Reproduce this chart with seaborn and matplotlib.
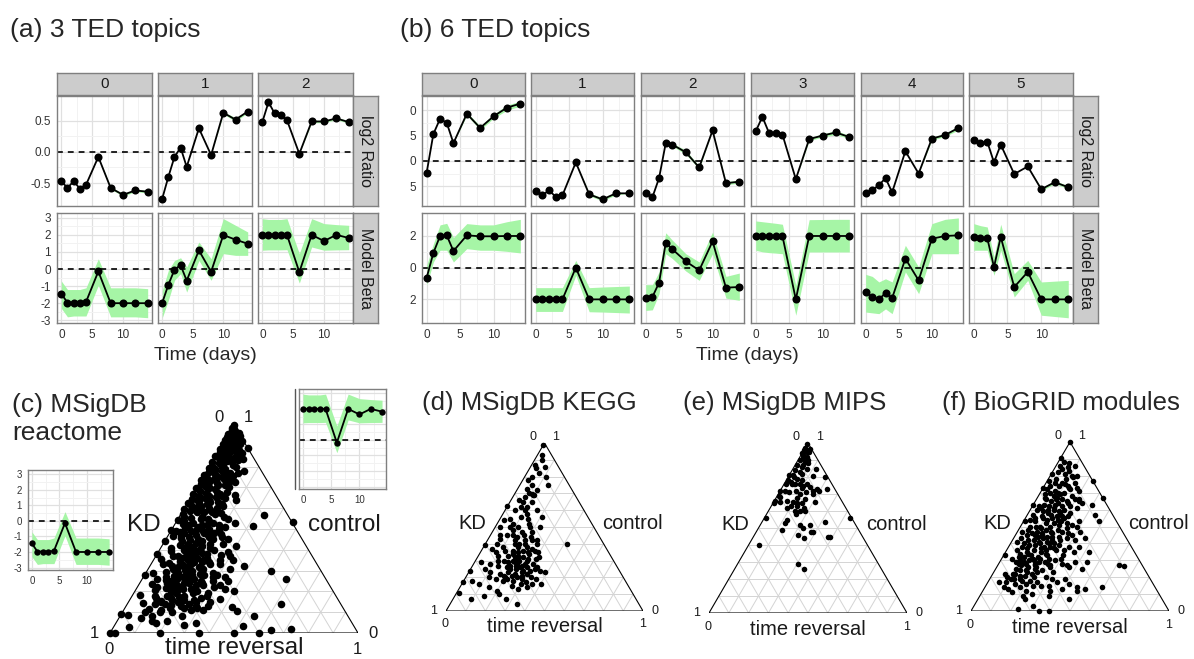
import numpy as np
import matplotlib
matplotlib.use('Agg')
import matplotlib.pyplot as plt
from matplotlib.lines import Line2D
import seaborn as sns

sns.set_style('white')
plt.rcParams['font.family'] = ['Liberation Sans', 'DejaVu Sans']

W, H = 1194, 659

days = [0, 1, 2, 3, 4, 6, 8, 10, 12, 14]

# (a) 3 TED topics
a_topics = ['0', '1', '2']
a_ratio = [[-0.47, -0.58, -0.47, -0.59, -0.53, -0.08, -0.58, -0.69, -0.62, -0.64],
           [-0.75, -0.40, -0.08, 0.07, -0.24, 0.38, -0.05, 0.63, 0.52, 0.65],
           [0.48, 0.80, 0.62, 0.59, 0.51, -0.03, 0.49, 0.49, 0.54, 0.48]]
a_ratio_band = [[0, 0, 0, 0, 0, 0, 0.02, 0.02, 0.02, 0.02],
                [0, 0, 0, 0, 0, 0, 0, 0.02, 0.03, 0.02],
                [0, 0, 0, 0, 0, 0, 0.02, 0.02, 0.02, 0.02]]
a_beta = [[-1.45, -1.97, -1.97, -1.97, -1.93, -0.14, -2.0, -2.0, -2.0, -2.0],
          [-1.97, -0.92, -0.04, 0.23, -0.68, 1.09, -0.16, 1.99, 1.72, 1.48],
          [2.0, 2.0, 2.0, 2.0, 2.0, -0.18, 2.0, 1.64, 2.0, 1.82]]
a_beta_lo = [[-2.3, -2.8, -2.75, -2.75, -2.75, -0.95, -2.8, -2.8, -2.8, -2.85],
             [-2.85, -1.83, -0.66, -0.27, -1.35, 0.5, -0.66, 0.9, 0.8, 0.8],
             [1.1, 1.12, 1.12, 1.12, 1.13, -0.82, 1.29, 1.1, 1.12, 1.13]]
a_beta_hi = [[-0.7, -1.2, -1.2, -1.2, -1.1, 0.6, -1.1, -1.1, -1.1, -1.15],
             [-1.25, -0.08, 0.5, 0.66, 0.12, 1.58, 0.6, 2.95, 2.56, 2.17],
             [2.95, 2.9, 2.9, 2.9, 2.95, 0.9, 2.95, 2.66, 2.6, 2.56]]

# (b) 6 TED topics
b_topics = ['0', '1', '2', '3', '4', '5']
b_ratio = [[-2.3, 5.3, 8.3, 7.5, 3.5, 9.3, 6.5, 8.8, 10.5, 11.3],
           [-6.0, -6.8, -5.8, -7.1, -6.8, -0.3, -6.6, -7.6, -6.4, -6.4],
           [-6.4, -7.2, -3.4, 3.5, 3.2, 1.7, -1.3, 6.0, -4.4, -4.1],
           [5.8, 8.7, 5.5, 5.5, 5.2, -3.6, 4.3, 5.0, 5.6, 4.7],
           [-6.4, -5.8, -4.8, -3.4, -6.2, 1.9, -2.5, 4.4, 5.1, 6.5],
           [4.2, 3.5, 3.8, -0.3, 3.2, -2.6, -1.1, -5.6, -4.2, -5.2]]
b_ratio_band = [[0, 0, 0, 0, 0, 0.3, 0.4, 0.4, 0.5, 0.5],
                [0, 0, 0, 0, 0, 0, 0.3, 0.3, 0.3, 0],
                [0, 0, 0, 0, 0.3, 0.4, 0.3, 0, 0.3, 0.3],
                [0, 0, 0, 0, 0, 0, 0.3, 0.3, 0.4, 0.3],
                [0, 0, 0, 0, 0, 0, 0, 0.3, 0.3, 0.4],
                [0, 0, 0, 0, 0, 0, 0, 0.3, 0.3, 0.3]]
b_beta = [[-0.63, 0.93, 2.0, 2.04, 1.05, 2.04, 1.98, 1.98, 2.0, 2.0],
          [-2.0, -2.0, -2.0, -2.0, -2.0, 0.0, -2.0, -2.0, -2.0, -2.0],
          [-1.9, -1.85, -0.95, 1.56, 1.16, 0.4, -0.17, 1.66, -1.26, -1.22],
          [2.0, 2.0, 2.0, 2.0, 2.0, -2.0, 2.0, 2.0, 2.0, 2.0],
          [-1.54, -1.85, -2.0, -1.6, -1.92, 0.57, -0.8, 1.83, 2.0, 2.04],
          [1.94, 1.87, 1.87, 0.04, 1.94, -1.22, -0.27, -2.0, -2.0, -2.0]]
b_beta_lo = [[-1.1, 0.36, 1.1, 1.1, 0.36, 1.2, 1.1, 1.1, 1.03, 0.93],
             [-2.76, -2.76, -2.76, -2.76, -2.76, -0.48, -2.78, -2.8, -2.83, -2.86],
             [-2.7, -2.66, -1.64, 0.88, 0.57, -0.21, -0.8, 0.88, -1.92, -2.06],
             [1.1, 1.0, 0.95, 0.92, 0.88, -3.0, 0.99, 0.99, 0.99, 0.99],
             [-2.8, -2.85, -2.9, -2.6, -2.9, -0.27, -1.64, 0.88, 0.88, 0.88],
             [1.1, 1.1, 1.1, -0.48, 1.1, -1.85, -0.8, -3.0, -3.08, -3.16]]
b_beta_hi = [[0.15, 1.5, 2.7, 2.8, 1.9, 2.78, 2.7, 2.7, 2.9, 3.05],
             [-1.26, -1.26, -1.26, -1.26, -1.26, 0.46, -1.26, -1.22, -1.19, -1.16],
             [-1.07, -1.07, -0.27, 2.2, 1.73, 0.88, 0.36, 2.25, -0.55, -0.34],
             [2.95, 2.9, 2.85, 2.8, 2.74, -1.12, 3.03, 3.04, 3.05, 3.05],
             [-0.42, -0.55, -0.9, -0.7, -0.9, 1.41, 0.04, 2.78, 3.05, 3.14],
             [2.78, 2.65, 2.57, 0.67, 2.74, -0.38, 0.46, -0.9, -0.85, -0.8]]

# ternary points: (control, time reversal), KD = 1 - control - time reversal
reactome_pts = [
    (1.0, 0.0), (0.985, 0.0), (0.98, 0.01), (0.975, 0.005), (0.965, 0.015), (0.955, 0.0), (0.95, 0.03),
    (0.94, 0.01), (0.935, 0.04), (0.93, 0.0), (0.925, 0.07), (0.92, 0.02), (0.915, 0.05), (0.91, 0.0),
    (0.905, 0.03), (0.90, 0.06), (0.89, 0.11),
    (0.895, 0.02), (0.885, 0.0), (0.88, 0.04), (0.875, 0.07), (0.87, 0.01), (0.865, 0.1), (0.86, 0.03),
    (0.855, 0.05), (0.85, 0.0), (0.845, 0.08), (0.84, 0.02), (0.835, 0.12), (0.83, 0.04), (0.825, 0.06),
    (0.82, 0.0), (0.815, 0.03), (0.81, 0.09), (0.805, 0.01), (0.80, 0.05),
    (0.795, 0.0), (0.79, 0.07), (0.785, 0.03), (0.78, 0.15), (0.775, 0.01), (0.77, 0.1), (0.765, 0.04),
    (0.76, 0.0), (0.755, 0.12), (0.75, 0.06), (0.745, 0.02), (0.74, 0.09), (0.735, 0.0), (0.73, 0.04),
    (0.725, 0.14), (0.72, 0.07), (0.715, 0.01), (0.71, 0.11), (0.705, 0.03), (0.70, 0.05),
    (0.695, 0.0), (0.69, 0.08), (0.685, 0.02), (0.68, 0.13), (0.675, 0.05), (0.67, 0.0), (0.665, 0.17),
    (0.66, 0.03), (0.655, 0.1), (0.65, 0.06), (0.645, 0.01), (0.64, 0.19), (0.635, 0.04), (0.63, 0.12),
    (0.625, 0.0), (0.62, 0.08), (0.615, 0.02), (0.61, 0.15), (0.605, 0.05), (0.60, 0.1),
    (0.595, 0.0), (0.59, 0.07), (0.585, 0.03), (0.58, 0.12), (0.575, 0.16), (0.57, 0.01), (0.565, 0.34),
    (0.56, 0.09), (0.555, 0.05), (0.55, 0.2), (0.545, 0.0), (0.54, 0.13), (0.535, 0.47), (0.53, 0.07),
    (0.525, 0.03), (0.52, 0.18), (0.515, 0.32), (0.51, 0.1), (0.505, 0.05), (0.50, 0.15), (0.53, 0.24),
    (0.56, 0.02), (0.52, 0.11),
    (0.495, 0.0), (0.49, 0.08), (0.485, 0.04), (0.48, 0.14), (0.475, 0.21), (0.47, 0.11), (0.465, 0.02),
    (0.46, 0.17), (0.455, 0.06), (0.45, 0.25), (0.445, 0.1), (0.44, 0.0), (0.435, 0.13), (0.43, 0.19),
    (0.425, 0.07), (0.42, 0.3), (0.415, 0.12), (0.41, 0.04), (0.405, 0.16), (0.40, 0.22), (0.46, 0.09),
    (0.44, 0.15), (0.42, 0.1), (0.48, 0.18),
    (0.395, 0.05), (0.39, 0.12), (0.385, 0.18), (0.38, 0.0), (0.375, 0.26), (0.37, 0.09), (0.365, 0.15),
    (0.36, 0.21), (0.355, 0.03), (0.35, 0.32), (0.345, 0.11), (0.34, 0.17), (0.335, 0.07), (0.33, 0.24),
    (0.325, 0.13), (0.32, 0.38), (0.315, 0.2), (0.31, 0.1), (0.305, 0.15), (0.30, 0.5), (0.38, 0.14),
    (0.36, 0.11), (0.34, 0.2), (0.32, 0.16), (0.30, 0.12), (0.35, 0.27),
    (0.295, 0.08), (0.29, 0.16), (0.285, 0.22), (0.28, 0.0), (0.275, 0.12), (0.27, 0.28), (0.265, 0.18),
    (0.26, 0.58), (0.255, 0.1), (0.25, 0.35), (0.245, 0.14), (0.24, 0.2), (0.235, 0.05), (0.23, 0.26),
    (0.225, 0.16), (0.22, 0.31), (0.215, 0.12), (0.21, 0.22), (0.205, 0.08), (0.20, 0.4), (0.28, 0.19),
    (0.26, 0.14), (0.24, 0.25), (0.22, 0.18), (0.27, 0.09), (0.23, 0.13),
    (0.195, 0.15), (0.19, 0.24), (0.185, 0.03), (0.18, 0.3), (0.175, 0.19), (0.17, 0.1), (0.165, 0.36),
    (0.16, 0.22), (0.155, 0.13), (0.15, 0.27), (0.145, 0.06), (0.14, 0.62), (0.135, 0.18), (0.13, 0.33),
    (0.125, 0.43), (0.12, 0.24), (0.115, 0.1), (0.11, 0.15), (0.105, 0.46), (0.10, 0.2), (0.18, 0.14),
    (0.16, 0.17), (0.14, 0.25), (0.12, 0.29),
    (0.09, 0.0), (0.087, 0.03), (0.08, 0.54), (0.07, 0.09), (0.06, 0.14), (0.05, 0.32), (0.04, 0.28),
    (0.035, 0.52), (0.03, 0.06), (0.02, 0.72), (0.015, 0.64), (0.0, 0.0), (0.0, 0.02), (0.0, 0.2),
    (0.0, 0.36), (0.0, 0.5), (0.0, 0.6),
    (0.97, 0.02), (0.96, 0.04), (0.945, 0.05), (0.94, 0.0), (0.93, 0.03), (0.92, 0.05), (0.91, 0.07),
    (0.9, 0.04), (0.89, 0.02), (0.88, 0.08), (0.87, 0.05), (0.86, 0.09), (0.85, 0.02), (0.84, 0.06),
    (0.83, 0.1), (0.82, 0.08), (0.81, 0.05), (0.8, 0.11), (0.79, 0.03), (0.78, 0.06), (0.77, 0.13),
    (0.76, 0.08), (0.75, 0.1), (0.74, 0.05), (0.73, 0.12), (0.72, 0.02), (0.71, 0.08), (0.7, 0.13),
    (0.69, 0.05), (0.68, 0.09), (0.67, 0.11), (0.66, 0.07), (0.65, 0.14), (0.64, 0.03), (0.63, 0.09),
    (0.62, 0.14), (0.61, 0.06), (0.6, 0.03), (0.59, 0.11), (0.58, 0.06), (0.57, 0.14), (0.56, 0.18),
    (0.55, 0.09), (0.54, 0.03), (0.53, 0.15), (0.52, 0.06), (0.51, 0.21), (0.5, 0.1), (0.49, 0.13),
    (0.48, 0.06), (0.47, 0.16), (0.46, 0.22), (0.45, 0.13), (0.44, 0.07), (0.43, 0.1), (0.42, 0.16),
    (0.41, 0.2), (0.4, 0.1), (0.49, 0.02), (0.47, 0.05), (0.45, 0.19), (0.43, 0.24), (0.41, 0.13),
    (0.55, 0.12), (0.6, 0.13), (0.58, 0.09), (0.64, 0.08), (0.66, 0.12), (0.52, 0.13), (0.5, 0.19),
    (0.39, 0.15), (0.38, 0.2), (0.37, 0.12), (0.36, 0.17), (0.35, 0.14), (0.34, 0.23), (0.33, 0.16),
    (0.32, 0.12), (0.31, 0.22), (0.3, 0.18), (0.29, 0.13), (0.28, 0.24), (0.27, 0.16), (0.26, 0.21),
    (0.25, 0.12), (0.24, 0.18), (0.23, 0.23), (0.22, 0.14), (0.21, 0.19), (0.2, 0.25), (0.19, 0.17),
    (0.18, 0.21), (0.17, 0.16), (0.16, 0.26), (0.15, 0.2), (0.14, 0.15), (0.13, 0.22), (0.12, 0.18),
    (0.11, 0.27), (0.1, 0.15), (0.39, 0.28), (0.37, 0.3), (0.33, 0.28), (0.31, 0.33), (0.29, 0.27),
    (0.27, 0.33), (0.25, 0.29), (0.23, 0.33), (0.21, 0.36), (0.19, 0.3), (0.17, 0.28), (0.15, 0.33),
    (0.13, 0.28), (0.11, 0.32), (0.37, 0.07), (0.33, 0.05), (0.29, 0.03), (0.26, 0.06), (0.22, 0.08),
    (0.18, 0.09), (0.14, 0.11), (0.1, 0.09), (0.08, 0.13), (0.06, 0.2), (0.05, 0.16), (0.08, 0.25),
    (0.35, 0.2), (0.3, 0.22), (0.25, 0.24), (0.2, 0.17), (0.15, 0.13), (0.28, 0.29), (0.24, 0.11),
    (0.32, 0.09)]

kegg_pts = [
    (0.986, 0.0), (0.90, 0.036), (0.857, 0.074), (0.867, 0.018), (0.80, 0.035), (0.80, 0.108),
    (0.748, 0.145), (0.778, 0.029), (0.728, 0.046), (0.698, 0.086), (0.69, 0.095), (0.69, 0.1),
    (0.68, 0.06), (0.623, 0.0), (0.649, 0.068), (0.60, 0.05), (0.56, 0.10), (0.6, 0.1), (0.603, 0.16),
    (0.56, 0.206), (0.5, 0.227), (0.54, 0.022), (0.5, 0.025), (0.5, 0.075), (0.5, 0.118), (0.5, 0.177),
    (0.45, 0.05), (0.45, 0.084), (0.45, 0.117), (0.42, 0.19), (0.42, 0.225), (0.42, 0.25), (0.4, 0.416),
    (0.39, 0.005), (0.37, 0.048), (0.4, 0.058), (0.4, 0.15), (0.38, 0.178), (0.36, 0.213), (0.4, 0.2),
    (0.4, 0.26), (0.35, 0.29), (0.29, 0.035), (0.25, 0.075), (0.28, 0.084), (0.3, 0.116), (0.3, 0.142),
    (0.27, 0.19), (0.29, 0.205), (0.26, 0.246), (0.28, 0.26), (0.24, 0.307), (0.25, 0.327), (0.24, 0.357),
    (0.23, 0.385), (0.24, 0.0), (0.17, 0.0), (0.18, 0.04), (0.16, 0.09), (0.14, 0.146), (0.22, 0.165),
    (0.19, 0.215), (0.18, 0.25), (0.16, 0.3), (0.14, 0.34), (0.16, 0.355), (0.16, 0.4), (0.11, 0.01),
    (0.07, 0.09), (0.09, 0.146), (0.07, 0.27), (0.04, 0.34),
    (0.33, 0.2), (0.32, 0.23), (0.31, 0.26), (0.3, 0.22), (0.34, 0.17), (0.35, 0.24), (0.27, 0.22),
    (0.26, 0.28), (0.22, 0.24), (0.21, 0.28), (0.2, 0.2), (0.23, 0.27), (0.25, 0.2), (0.36, 0.12),
    (0.33, 0.1), (0.47, 0.15), (0.44, 0.14), (0.55, 0.14), (0.52, 0.16), (0.62, 0.07), (0.65, 0.11),
    (0.72, 0.1), (0.75, 0.06), (0.82, 0.06), (0.85, 0.03), (0.93, 0.02), (0.2, 0.33), (0.19, 0.36),
    (0.12, 0.2), (0.1, 0.22), (0.2, 0.12), (0.31, 0.3),
    (0.42, 0.14), (0.4, 0.17), (0.38, 0.22), (0.37, 0.25), (0.36, 0.16), (0.35, 0.19), (0.34, 0.25),
    (0.33, 0.15), (0.32, 0.19), (0.31, 0.21), (0.3, 0.26), (0.29, 0.17), (0.28, 0.22), (0.27, 0.25),
    (0.26, 0.18), (0.25, 0.23), (0.24, 0.27), (0.23, 0.2), (0.22, 0.3), (0.21, 0.23), (0.2, 0.26),
    (0.19, 0.29), (0.18, 0.2), (0.17, 0.32), (0.15, 0.26), (0.13, 0.3), (0.45, 0.17), (0.48, 0.1),
    (0.52, 0.08), (0.55, 0.05), (0.58, 0.12), (0.62, 0.1), (0.66, 0.04), (0.7, 0.07), (0.47, 0.2),
    (0.44, 0.21), (0.36, 0.27), (0.32, 0.31), (0.28, 0.3), (0.26, 0.33), (0.21, 0.19), (0.3, 0.19),
    (0.38, 0.1), (0.43, 0.06), (0.35, 0.08), (0.27, 0.13), (0.23, 0.11), (0.19, 0.16)]

mips_pts = [
    (0.994, 0.0), (0.965, 0.027), (0.955, 0.01), (0.946, 0.03), (0.93, 0.011), (0.92, 0.033), (0.90, 0.009),
    (0.89, 0.04), (0.87, 0.008), (0.86, 0.038), (0.88, 0.062), (0.84, 0.014), (0.83, 0.044), (0.81, 0.02),
    (0.85, 0.115), (0.806, 0.12), (0.80, 0.186), (0.81, 0.0), (0.80, 0.03), (0.78, 0.01), (0.79, 0.05),
    (0.756, 0.01), (0.756, 0.04), (0.756, 0.056), (0.756, 0.08), (0.745, 0.10), (0.76, 0.113),
    (0.72, 0.167), (0.73, 0.18), (0.72, 0.197), (0.73, 0.23), (0.72, 0.0), (0.72, 0.023), (0.71, 0.05),
    (0.715, 0.083), (0.735, 0.1), (0.71, 0.137), (0.70, 0.175), (0.69, 0.01), (0.66, 0.003), (0.655, 0.03),
    (0.645, 0.005), (0.66, 0.065), (0.655, 0.095), (0.675, 0.108), (0.645, 0.12), (0.65, 0.143),
    (0.63, 0.131), (0.655, 0.207), (0.62, 0.085), (0.60, 0.134), (0.60, 0.159), (0.60, 0.185),
    (0.56, 0.01), (0.55, 0.12), (0.53, 0.12), (0.49, 0.122), (0.515, 0.2), (0.5, 0.226), (0.52, 0.25),
    (0.475, 0.286), (0.477, 0.276), (0.46, 0.22), (0.44, 0.26), (0.535, 0.32), (0.45, 0.378),
    (0.45, 0.386), (0.56, 0.43), (0.40, 0.05), (0.29, 0.305), (0.26, 0.35),
    (0.97, 0.0), (0.96, 0.0), (0.95, 0.02), (0.94, 0.0), (0.91, 0.02), (0.9, 0.05), (0.87, 0.04),
    (0.85, 0.07), (0.82, 0.06), (0.78, 0.08), (0.77, 0.03), (0.74, 0.14), (0.7, 0.11), (0.68, 0.02),
    (0.67, 0.15), (0.63, 0.1), (0.62, 0.17), (0.58, 0.15)]

biogrid_pts = [
    (1.0, 0.0), (0.907, 0.0), (0.873, 0.06), (0.86, 0.097), (0.85, 0.065), (0.81, 0.068), (0.80, 0.11),
    (0.80, 0.135), (0.77, 0.23), (0.81, 0.005), (0.77, 0.01), (0.76, 0.046), (0.74, 0.073), (0.76, 0.08),
    (0.73, 0.128), (0.76, 0.147), (0.73, 0.17), (0.71, 0.19), (0.67, 0.33), (0.73, 0.0), (0.72, 0.024),
    (0.70, 0.05), (0.67, 0.037), (0.68, 0.078), (0.69, 0.106), (0.66, 0.13), (0.65, 0.16), (0.68, 0.17),
    (0.66, 0.197), (0.65, 0.219), (0.64, 0.24), (0.61, 0.23), (0.66, 0.217), (0.63, 0.295), (0.63, 0.0),
    (0.60, 0.033), (0.62, 0.035), (0.63, 0.052), (0.62, 0.082), (0.61, 0.113), (0.59, 0.148), (0.60, 0.168),
    (0.58, 0.212), (0.57, 0.34), (0.53, 0.009), (0.54, 0.03), (0.55, 0.05), (0.56, 0.079), (0.54, 0.114),
    (0.55, 0.134), (0.56, 0.154), (0.53, 0.191), (0.55, 0.193), (0.52, 0.225), (0.51, 0.255), (0.50, 0.285),
    (0.53, 0.282), (0.53, 0.38), (0.47, 0.023), (0.45, 0.058), (0.46, 0.078), (0.47, 0.1), (0.45, 0.134),
    (0.44, 0.164), (0.46, 0.179), (0.44, 0.223), (0.47, 0.225), (0.43, 0.27), (0.45, 0.285), (0.42, 0.317),
    (0.47, 0.317), (0.43, 0.362), (0.41, 0.027), (0.38, 0.068), (0.39, 0.096), (0.36, 0.136), (0.41, 0.137),
    (0.38, 0.177), (0.40, 0.192), (0.37, 0.233), (0.39, 0.248), (0.36, 0.288), (0.38, 0.303), (0.35, 0.344),
    (0.38, 0.354), (0.35, 0.419), (0.27, 0.61), (0.265, 0.64), (0.33, 0.008), (0.31, 0.052), (0.32, 0.081),
    (0.29, 0.121), (0.30, 0.141), (0.28, 0.185), (0.31, 0.195), (0.29, 0.23), (0.27, 0.265), (0.30, 0.276),
    (0.28, 0.32), (0.26, 0.363), (0.29, 0.382), (0.25, 0.435), (0.29, 0.441), (0.17, 0.055), (0.14, 0.095),
    (0.19, 0.105), (0.22, 0.114), (0.19, 0.155), (0.21, 0.169), (0.18, 0.21), (0.17, 0.248), (0.15, 0.317),
    (0.19, 0.314), (0.17, 0.349), (0.13, 0.395), (0.16, 0.413), (0.14, 0.465), (0.13, 0.512), (0.14, 0.592),
    (0.09, 0.22), (0.07, 0.24), (0.09, 0.347), (0.12, 0.34), (0.07, 0.458), (0.12, 0.475), (0.01, 0.23),
    (0.0, 0.345), (0.0, 0.394), (0.03, 0.30),
    (0.5, 0.1), (0.48, 0.14), (0.52, 0.16), (0.44, 0.12), (0.42, 0.2), (0.4, 0.15), (0.36, 0.2),
    (0.34, 0.12), (0.58, 0.1), (0.6, 0.09), (0.64, 0.12), (0.7, 0.09), (0.74, 0.12), (0.78, 0.09),
    (0.84, 0.04), (0.33, 0.22), (0.31, 0.16), (0.26, 0.2), (0.24, 0.16), (0.23, 0.22), (0.5, 0.05),
    (0.48, 0.2), (0.56, 0.18), (0.62, 0.15), (0.66, 0.1), (0.42, 0.08), (0.36, 0.05), (0.28, 0.1),
    (0.22, 0.06), (0.2, 0.28),
    (0.88, 0.03), (0.86, 0.02), (0.83, 0.08), (0.82, 0.03), (0.79, 0.12), (0.78, 0.04), (0.75, 0.1),
    (0.74, 0.03), (0.72, 0.14), (0.71, 0.07), (0.7, 0.12), (0.69, 0.03), (0.67, 0.1), (0.66, 0.05),
    (0.65, 0.08), (0.64, 0.17), (0.63, 0.11), (0.62, 0.19), (0.61, 0.05), (0.6, 0.12),
    (0.59, 0.07), (0.58, 0.16), (0.57, 0.03), (0.57, 0.12), (0.56, 0.21), (0.55, 0.09), (0.54, 0.17),
    (0.53, 0.06), (0.52, 0.12), (0.51, 0.19), (0.5, 0.08), (0.5, 0.15), (0.49, 0.11), (0.49, 0.24),
    (0.48, 0.05), (0.47, 0.17), (0.46, 0.13), (0.46, 0.26), (0.45, 0.1), (0.44, 0.19), (0.43, 0.04),
    (0.43, 0.15), (0.42, 0.11), (0.42, 0.24), (0.41, 0.18), (0.4, 0.07), (0.4, 0.22),
    (0.39, 0.13), (0.38, 0.21), (0.37, 0.1), (0.37, 0.17), (0.36, 0.25), (0.35, 0.11), (0.35, 0.18),
    (0.34, 0.08), (0.34, 0.21), (0.33, 0.14), (0.33, 0.3), (0.32, 0.11), (0.32, 0.18), (0.31, 0.24),
    (0.3, 0.1), (0.3, 0.17), (0.29, 0.2), (0.29, 0.08), (0.28, 0.14), (0.28, 0.25), (0.27, 0.12),
    (0.27, 0.19), (0.26, 0.16), (0.26, 0.27), (0.25, 0.1), (0.25, 0.2), (0.24, 0.13), (0.24, 0.24),
    (0.23, 0.17), (0.22, 0.1), (0.22, 0.2), (0.21, 0.14), (0.2, 0.08), (0.2, 0.22), (0.19, 0.12),
    (0.18, 0.17), (0.17, 0.09), (0.16, 0.2), (0.16, 0.14), (0.15, 0.24), (0.14, 0.18), (0.13, 0.12),
    (0.12, 0.22), (0.11, 0.15), (0.1, 0.26), (0.31, 0.3), (0.27, 0.35), (0.23, 0.3), (0.19, 0.38),
    (0.15, 0.28)]

GREEN = '#a6f5a6'
BORDER = '#7f7f7f'
TICKC = '#333333'

fig = plt.figure(figsize=(W / 100, H / 100), dpi=100)


def box(x0, y0, x1, y1):
    return [x0 / W, 1 - y1 / H, (x1 - x0) / W, (y1 - y0) / H]


def series_panel(rect, y, lo, hi, ylim, yticks, ylabels, show_x, show_y, ms=5.8, fs=8.5):
    ax = fig.add_axes(box(*rect))
    ax.set_axisbelow(True)
    ax.fill_between(days, lo, hi, color=GREEN, lw=0, zorder=1)
    ax.axhline(0, color='black', ls=(0, (3.5, 3)), lw=1.2, zorder=2)
    sns.lineplot(x=days, y=y, ax=ax, color='black', lw=1.3, marker='o',
                 markersize=ms, markeredgewidth=0, zorder=3)
    ax.set_xlim(-0.7, 14.7)
    ax.set_ylim(*ylim)
    ax.set_xticks([0, 5, 10])
    ax.set_xticks([2.5, 7.5, 12.5], minor=True)
    ax.set_yticks(yticks)
    mids = [(a + b) / 2 for a, b in zip(yticks[:-1], yticks[1:])]
    ax.set_yticks(mids, minor=True)
    ax.grid(which='major', color='#e0e0e0', lw=0.9)
    ax.grid(which='minor', color='#f2f2f2', lw=0.7)
    ax.set_xlabel('')
    ax.set_ylabel('')
    for s in ax.spines.values():
        s.set_color(BORDER)
        s.set_linewidth(1.0)
    ax.tick_params(which='minor', length=0)
    ax.tick_params(which='major', length=3, width=0.8, color=TICKC, labelsize=fs,
                   labelcolor=TICKC, pad=1.5)
    if show_x:
        ax.set_xticklabels(['0', '5', '10'])
    else:
        ax.tick_params(axis='x', which='major', length=0, labelbottom=False)
    if show_y:
        ax.set_yticklabels(ylabels)
    else:
        ax.tick_params(axis='y', which='major', length=0, labelleft=False)
    return ax


def strip(rect, label, rot=0):
    ax = fig.add_axes(box(*rect))
    ax.set_facecolor('#cccccc')
    ax.set_xticks([])
    ax.set_yticks([])
    for s in ax.spines.values():
        s.set_color(BORDER)
        s.set_linewidth(1.0)
    ax.text(0.5, 0.5, label, transform=ax.transAxes, ha='center', va='center',
            rotation=rot, fontsize=11.5 if rot else 11, color='#1a1a1a')


def facet_block(cols, right_x, ratio, band, beta, lo, hi, ratio_ylim, ratio_ticks,
                ratio_labels, beta_ylim, beta_ticks, beta_labels, topics):
    for j, (x0, x1) in enumerate(cols):
        strip((x0, 73, x1, 95), topics[j])
        r = np.array(ratio[j])
        bw = np.array(band[j])
        series_panel((x0, 96, x1, 206), r, r - bw, r + bw, ratio_ylim, ratio_ticks,
                     ratio_labels, False, j == 0)
        series_panel((x0, 213, x1, 323), beta[j], lo[j], hi[j], beta_ylim, beta_ticks,
                     beta_labels, True, j == 0)
    strip((right_x, 96, right_x + 25, 206), 'log2 Ratio', rot=-90)
    strip((right_x, 213, right_x + 25, 323), 'Model Beta', rot=-90)


a_cols = [(57, 152), (158, 252), (258, 353)]
facet_block(a_cols, 353, a_ratio, a_ratio_band, a_beta, a_beta_lo, a_beta_hi,
            (-0.87, 0.90), [-0.5, 0.0, 0.5], ['-0.5', '0.0', '0.5'],
            (-3.16, 3.28), [-3, -2, -1, 0, 1, 2, 3], ['-3', '-2', '-1', '0', '1', '2', '3'],
            a_topics)

b_cols = [(422, 525), (531, 634), (641, 744), (751, 854), (861, 963), (969, 1073)]
facet_block(b_cols, 1073, b_ratio, b_ratio_band, b_beta, b_beta_lo, b_beta_hi,
            (-8.9, 12.8), [-5, 0, 5, 10], ['5', '0', '5', '0'],
            (-3.49, 3.45), [-2, 0, 2], ['2', '0', '2'],
            b_topics)

fig.text(205 / W, 1 - 356 / H, 'Time (days)', ha='center', va='center', fontsize=14)
fig.text(747 / W, 1 - 356 / H, 'Time (days)', ha='center', va='center', fontsize=14)

fig.text(10 / W, 1 - 30 / H, '(a) 3 TED topics', ha='left', va='center', fontsize=19)
fig.text(400 / W, 1 - 30 / H, '(b) 6 TED topics', ha='left', va='center', fontsize=19)
fig.text(12 / W, 1 - 419 / H, '(c) MSigDB\nreactome', ha='left', va='center', fontsize=19,
         linespacing=1.2)
fig.text(422 / W, 1 - 403 / H, '(d) MSigDB KEGG', ha='left', va='center', fontsize=18.5)
fig.text(683 / W, 1 - 403 / H, '(e) MSigDB MIPS', ha='left', va='center', fontsize=18.5)
fig.text(942 / W, 1 - 403 / H, '(f) BioGRID modules', ha='left', va='center', fontsize=18.5)

# insets of panel (c)
series_panel((28, 470, 113, 570), a_beta[0], a_beta_lo[0], a_beta_hi[0], (-3.16, 3.28),
             [-3, -2, -1, 0, 1, 2, 3], ['-3', '-2', '-1', '0', '1', '2', '3'],
             True, True, ms=4.6, fs=7)
series_panel((299, 389, 386, 489), a_beta[2], a_beta_lo[2], a_beta_hi[2], (-3.16, 3.28),
             [-3, -2, -1, 0, 1, 2, 3], [], True, False, ms=4.6, fs=7)
fig.add_artist(Line2D([295 / W, 295 / W], [1 - 389 / H, 1 - 489 / H], color='#555555', lw=1.0))


def ternary(rect, pts, dot, lab_fs, tick_fs, base_y=-0.095):
    ax = fig.add_axes(box(*rect))
    ax.set_xlim(0, 1)
    ax.set_ylim(0, 1)
    ax.axis('off')
    for k in range(1, 10):
        f = k / 10
        kw = dict(color='#d4d4d4', lw=0.7, zorder=1)
        ax.plot([f / 2, 1 - f / 2], [f, f], **kw)
        ax.plot([f, (1 + f) / 2], [0, 1 - f], **kw)
        ax.plot([1 - f, (1 - f) / 2], [0, 1 - f], **kw)
    ax.plot([0, 1, 0.5, 0], [0, 0, 1, 0], color='black', lw=0.8, zorder=2,
            solid_joinstyle='miter')
    control = np.array([p[0] for p in pts])
    trev = np.array([p[1] for p in pts])
    sns.scatterplot(x=trev + control / 2, y=control, ax=ax, s=dot, color='black',
                    linewidth=0, clip_on=False, zorder=3)
    ax.set_xlabel('')
    ax.set_ylabel('')
    tk = dict(fontsize=tick_fs, ha='center', va='center', color='#1a1a1a')
    ax.text(0.44, 1.035, '0', **tk)
    ax.text(0.558, 1.035, '1', **tk)
    ax.text(-0.063, 0.0, '1', **tk)
    ax.text(-0.006, -0.08, '0', **tk)
    ax.text(1.062, 0.0, '0', **tk)
    ax.text(0.997, -0.08, '1', **tk)
    lk = dict(fontsize=lab_fs, ha='center', va='center', color='#1a1a1a')
    ax.text(0.135, 0.52, 'KD', **lk)
    ax.text(0.945, 0.52, 'control', **lk)
    ax.text(0.5, base_y, 'time reversal', **lk)


ternary((110, 425, 358, 633), reactome_pts, 30, 17.5, 12, base_y=-0.072)
ternary((446, 443, 643, 611), kegg_pts, 16, 14.5, 9)
ternary((709, 443, 907, 613), mips_pts, 16, 14.5, 9)
ternary((971, 442, 1169, 611), biogrid_pts, 16, 14.5, 9)

fig.savefig('out.png', dpi=100)
